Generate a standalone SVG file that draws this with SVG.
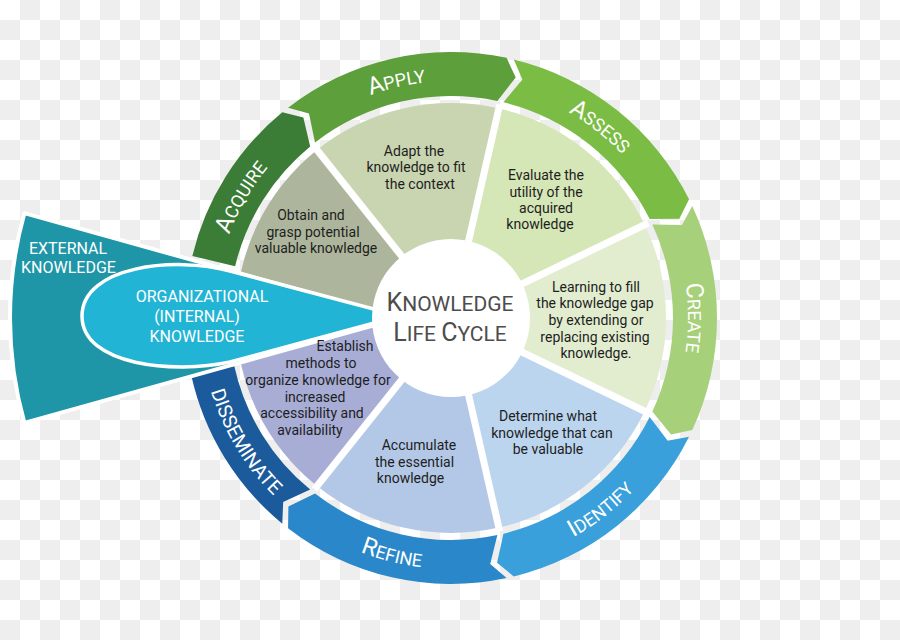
<svg xmlns="http://www.w3.org/2000/svg" xmlns:xlink="http://www.w3.org/1999/xlink" width="900" height="640" viewBox="0 0 900 640">
<defs>
<pattern id="checker" width="40" height="40" patternUnits="userSpaceOnUse">
<rect width="40" height="40" fill="#ffffff"/>
<rect x="20" y="0" width="20" height="20" fill="#eeeeee"/>
<rect x="0" y="20" width="20" height="20" fill="#eeeeee"/>
</pattern>
<path id="seg" d="M 265.97 3.71 A 266 266 0 0 1 168.74 205.65 L 147.66 200.51 L 140.83 171.63 A 222 222 0 0 0 221.98 3.10 L 248.45 16.50 Z"/>
<path id="cw" d="M 181.55 -152.34 A 237 237 0 0 1 181.55 152.34" fill="none"/>
<path id="ccw" d="M 192.28 161.34 A 251 251 0 0 0 192.28 -161.34" fill="none"/>
</defs>
<style>
.lbl{font-family:Roboto,"Liberation Sans",sans-serif;fill:#ffffff;text-anchor:middle}
.big{font-size:24px}
.sm{font-size:18px}
.ds{font-size:19.5px}
.wt{font-family:Roboto,"Liberation Sans",sans-serif;font-size:14px;fill:#1e1e1e;text-anchor:middle}
.sep{stroke:#ffffff;stroke-width:7;fill:none}
.ct{font-family:Roboto,"Liberation Sans",sans-serif;font-size:21px;fill:#4d4d4d;text-anchor:middle}
.ck{font-size:25px}
.kt{font-family:Roboto,"Liberation Sans",sans-serif;font-size:16px;fill:#ffffff;text-anchor:middle}
</style>
<rect width="900" height="640" fill="url(#checker)"/>

<g id="ring-acquire" transform="translate(451 318)">
<path transform="rotate(193.5)" d="M 266 0 A 266 266 0 0 1 212.07 160.57 L 190.38 160.49 L 176.99 134.01 A 222 222 0 0 0 222 0 Z" fill="#3b7c36"/>
<text class="lbl" transform="rotate(210)"><textPath xlink:href="#cw" href="#cw" startOffset="50%"><tspan class="big">A</tspan><tspan class="sm">CQUIRE</tspan></textPath></text>
</g>
<g id="ring-apply" transform="translate(451 318)">
<use xlink:href="#seg" href="#seg" transform="rotate(231.43)" fill="#5d9f3b"/>
<text class="lbl" transform="rotate(257)"><textPath xlink:href="#cw" href="#cw" startOffset="50%"><tspan class="big">A</tspan><tspan class="sm">PPLY</tspan></textPath></text>
</g>
<g id="ring-assess" transform="translate(451 318)">
<use xlink:href="#seg" href="#seg" transform="rotate(282.86)" fill="#7bbd44"/>
<text class="lbl" transform="rotate(308)"><textPath xlink:href="#cw" href="#cw" startOffset="50%"><tspan class="big">A</tspan><tspan class="sm">SSESS</tspan></textPath></text>
</g>
<g id="ring-create" transform="translate(451 318)">
<use xlink:href="#seg" href="#seg" transform="rotate(334.29)" fill="#a6d07a"/>
<text class="lbl" transform="rotate(0)"><textPath xlink:href="#cw" href="#cw" startOffset="50%"><tspan class="big">C</tspan><tspan class="sm">REATE</tspan></textPath></text>
</g>
<g id="ring-identify" transform="translate(451 318)">
<use xlink:href="#seg" href="#seg" transform="rotate(25.71)" fill="#39a0db"/>
<text class="lbl" transform="rotate(52)"><textPath xlink:href="#ccw" href="#ccw" startOffset="50%"><tspan class="big">I</tspan><tspan class="sm">DENTIFY</tspan></textPath></text>
</g>
<g id="ring-refine" transform="translate(451 318)">
<use xlink:href="#seg" href="#seg" transform="rotate(77.14)" fill="#2a87c9"/>
<text class="lbl" transform="rotate(104)"><textPath xlink:href="#ccw" href="#ccw" startOffset="50%"><tspan class="big">R</tspan><tspan class="sm">EFINE</tspan></textPath></text>
</g>
<g id="ring-disseminate" transform="translate(451 318)">
<path transform="rotate(128.57)" d="M 265.97 3.71 A 266 266 0 0 1 206.93 167.15 L 172.70 139.50 A 222 222 0 0 0 221.98 3.10 L 248.45 16.50 Z" fill="#1b5a9b"/>
<text class="lbl" transform="rotate(149)"><textPath xlink:href="#ccw" href="#ccw" startOffset="50%"><tspan class="ds">DISSEMINATE</tspan></textPath></text>
</g>

<g id="wedge-obtain">
<path d="M 451 318 L 236 318 A 215 215 0 0 1 316.95 149.91 Z" fill="#adb69d"/>
</g>
<g id="wedge-adapt">
<path d="M 451 318 L 316.95 149.91 A 215 215 0 0 1 498.84 108.39 Z" fill="#c9d5b1"/>
</g>
<g id="wedge-evaluate">
<path d="M 451 318 L 498.84 108.39 A 215 215 0 0 1 644.71 224.72 Z" fill="#d5e6b7"/>
</g>
<g id="wedge-learning">
<path d="M 451 318 L 644.71 224.72 A 215 215 0 0 1 644.71 411.28 Z" fill="#e2edd0"/>
</g>
<g id="wedge-determine">
<path d="M 451 318 L 644.71 411.28 A 215 215 0 0 1 498.84 527.61 Z" fill="#bbd5ef"/>
</g>
<g id="wedge-accumulate">
<path d="M 451 318 L 498.84 527.61 A 215 215 0 0 1 316.95 486.09 Z" fill="#b3c8e7"/>
</g>
<g id="wedge-establish">
<path d="M 451 318 L 316.95 486.09 A 215 215 0 0 1 236 318 Z" fill="#a8add6"/>
</g>

<g id="connectors">
<line class="sep" x1="451" y1="318" x2="314.46" y2="146.78"/>
<line class="sep" x1="451" y1="318" x2="499.73" y2="104.49"/>
<line class="sep" x1="451" y1="318" x2="648.31" y2="222.98"/>
<line class="sep" x1="451" y1="318" x2="648.31" y2="413.02"/>
<line class="sep" x1="451" y1="318" x2="499.73" y2="531.51"/>
<line class="sep" x1="451" y1="318" x2="314.46" y2="489.22"/>
</g>

<g id="external-knowledge">
<path d="M 400 318 L 24.37 213.12 A 390 390 0 0 0 24.37 422.88 Z" fill="#1e96a7" stroke="#ffffff" stroke-width="4" stroke-linejoin="round"/>
<text class="kt" x="68" y="254">EXTERNAL</text>
<text class="kt" x="68.5" y="273">KNOWLEDGE</text>
</g>
<g id="organizational-knowledge">
<path d="M 400 316 L 230 271 C 175 256 82 266 82 316 C 82 366 175 374 230 362 Z" fill="#22b4d4" stroke="#ffffff" stroke-width="3.5" stroke-linejoin="round"/>
<text class="kt" x="202" y="302">ORGANIZATIONAL</text>
<text class="kt" x="197" y="322">(INTERNAL)</text>
<text class="kt" x="197" y="342">KNOWLEDGE</text>
</g>

<g id="center">
<circle cx="451" cy="318" r="79" fill="#ffffff"/>
<text class="ct" x="450" y="311"><tspan class="ck">K</tspan>NOWLEDGE</text>
<text class="ct" x="450" y="341"><tspan class="ck">L</tspan>IFE <tspan class="ck">C</tspan>YCLE</text>
</g>

<g id="wedge-texts">
<g id="text-obtain">
<text class="wt" x="311" y="220">Obtain and</text>
<text class="wt" x="313" y="237">grasp potential</text>
<text class="wt" x="316" y="253">valuable knowledge</text>
</g>
<g id="text-adapt">
<text class="wt" x="414" y="156">Adapt the</text>
<text class="wt" x="416" y="172">knowledge to fit</text>
<text class="wt" x="420" y="189">the context</text>
</g>
<g id="text-evaluate">
<text class="wt" x="546" y="180">Evaluate the</text>
<text class="wt" x="546" y="197">utility of the</text>
<text class="wt" x="546" y="213">acquired</text>
<text class="wt" x="540" y="229">knowledge</text>
</g>
<g id="text-learning">
<text class="wt" x="596" y="292">Learning to fill</text>
<text class="wt" x="595" y="308">the knowledge gap</text>
<text class="wt" x="596" y="325">by extending or</text>
<text class="wt" x="595" y="342">replacing existing</text>
<text class="wt" x="596" y="358">knowledge.</text>
</g>
<g id="text-determine">
<text class="wt" x="548" y="421">Determine what</text>
<text class="wt" x="552" y="438">knowledge that can</text>
<text class="wt" x="548" y="454">be valuable</text>
</g>
<g id="text-accumulate">
<text class="wt" x="419" y="450">Accumulate</text>
<text class="wt" x="414.5" y="467">the essential</text>
<text class="wt" x="410.5" y="483">knowledge</text>
</g>
<g id="text-establish">
<text class="wt" x="345" y="351">Establish</text>
<text class="wt" x="321" y="368">methods to</text>
<text class="wt" x="318" y="385">organize knowledge for</text>
<text class="wt" x="315" y="402">increased</text>
<text class="wt" x="312" y="418">accessibility and</text>
<text class="wt" x="310" y="435">availability</text>
</g>
</g>
</svg>
